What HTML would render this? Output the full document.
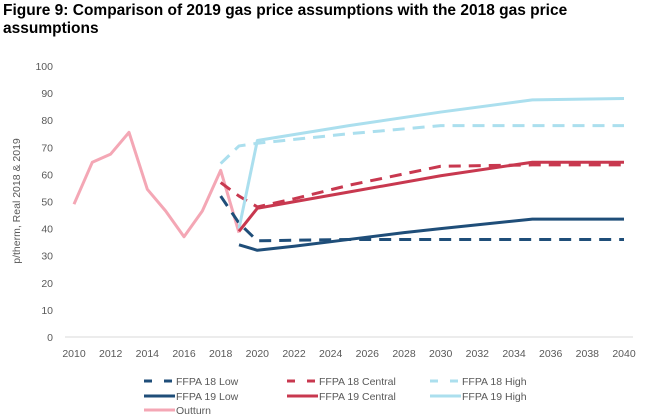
<!DOCTYPE html>
<html><head><meta charset="utf-8"><style>
body{margin:0;background:#fff;width:661px;height:419px;overflow:hidden;font-family:"Liberation Sans",sans-serif}
#title{position:absolute;left:3px;top:2px;font-weight:bold;font-size:15.5px;line-height:18px;color:#000;width:650px}
svg{position:absolute;left:0;top:0}
</style></head><body>
<div id="title">Figure 9: Comparison of 2019 gas price assumptions with the 2018 gas price assumptions</div>
<svg id="chart" width="661" height="419"></svg>
<script>
const xTicks=[2010,2012,2014,2016,2018,2020,2022,2024,2026,2028,2030,2032,2034,2036,2038,2040];
const yTicks=[0,10,20,30,40,50,60,70,80,90,100];
const outturnYears=[2010,2011,2012,2013,2014,2015,2016,2017,2018,2019];
const outturnVals=[49,64.5,67.5,75.5,54.5,46.5,37,46.5,61.5,38.5];
const low18Years=[2018,2019,2020,2025,2030,2040];
const low18Vals=[52,42,35.5,36,36,36];
const cen18Years=[2018,2019,2020,2022,2025,2030,2035,2040];
const cen18Vals=[57,52,48,51,56,63,63.5,63.5];
const high18Years=[2018,2019,2020,2025,2030,2035,2040];
const high18Vals=[64,70.5,71.5,75,78,78,78];
const low19Years=[2019,2020,2022,2025,2028,2030,2035,2040];
const low19Vals=[34,32,33.5,36,38.5,40,43.5,43.5];
const cen19Years=[2019,2020,2025,2030,2035,2040];
const cen19Vals=[39,47.5,53.5,59.5,64.5,64.5];
const high19Years=[2019,2020,2025,2030,2035,2040];
const high19Vals=[40,72.5,78,83,87.5,88];
const NS="http://www.w3.org/2000/svg";
const svg=document.getElementById('chart');
const X=y=>74+(y-2010)*550/30;
const Y=v=>337-v*2.71;
function mk(t,a){const e=document.createElementNS(NS,t);for(const k in a)e.setAttribute(k,a[k]);svg.appendChild(e);return e;}
const ax=mk('line',{x1:65,x2:633,y1:337,y2:337,stroke:'#d9d9d9','stroke-width':1});


yTicks.forEach(v=>{const t=mk('text',{x:53,y:Y(v)+4,'text-anchor':'end','font-size':10.5,fill:'#595959'});t.textContent=v;

});
xTicks.forEach(v=>{const t=mk('text',{x:X(v),y:357,'text-anchor':'middle','font-size':10.5,fill:'#595959'});t.textContent=v;

});
const yt=mk('text',{x:0,y:0,transform:'translate(20,201) rotate(-90)','text-anchor':'middle','font-size':10.5,fill:'#595959'});
yt.textContent='p/therm, Real 2018 & 2019';


const series=[
 ['outturn',outturnYears,outturnVals,'#f4a7b5',false],
 ['ffpa18-high',high18Years,high18Vals,'#abdfee',true],
 ['ffpa18-central',cen18Years,cen18Vals,'#c8384f',true],
 ['ffpa18-low',low18Years,low18Vals,'#1f4e79',true],
 ['ffpa19-high',high19Years,high19Vals,'#abdfee',false],
 ['ffpa19-central',cen19Years,cen19Vals,'#c8384f',false],
 ['ffpa19-low',low19Years,low19Vals,'#1f4e79',false]];
series.forEach(([n,xs,vs,c,d])=>{
 const p=mk('polyline',{points:xs.map((x,i)=>X(x)+','+Y(vs[i])).join(' '),fill:'none',stroke:c,'stroke-width':3,'stroke-linejoin':'round','stroke-dasharray':d?'12,8':'none'});
 
 
});
const legend=[['FFPA 18 Low','#1f4e79',true,144,381],['FFPA 18 Central','#c8384f',true,287,381],['FFPA 18 High','#abdfee',true,430,381],
['FFPA 19 Low','#1f4e79',false,144,396],['FFPA 19 Central','#c8384f',false,287,396],['FFPA 19 High','#abdfee',false,430,396],['Outturn','#f4a7b5',false,144,410]];
legend.forEach(([l,c,d,x,y])=>{
 const g=mk('line',{x1:x,x2:x+31,y1:y,y2:y,stroke:c,'stroke-width':3,'stroke-dasharray':d?'8,12':'none'});
 
 
 const t=mk('text',{x:x+32,y:y+4,'font-size':10.5,fill:'#595959'});t.textContent=l;
 
 
});
</script>
</body></html>
